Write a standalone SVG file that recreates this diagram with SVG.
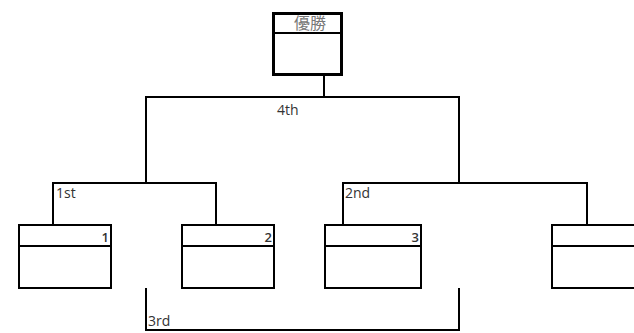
<svg xmlns="http://www.w3.org/2000/svg" width="634" height="333" viewBox="0 0 634 333">
<style>
.box{fill:#fff;stroke:#000;stroke-width:2}
.div{stroke:#000;stroke-width:2}
.line{fill:none;stroke:#000;stroke-width:2}
.lbl{font-family:"Open Sans","DejaVu Sans",sans-serif;font-size:14px;fill:#333}
.num{font-family:"Open Sans","DejaVu Sans",sans-serif;font-size:13px;font-weight:600;fill:#333;text-anchor:end}
</style>
<rect width="634" height="333" fill="#fff"/>
<g id="connectors">
<path class="line" d="M324 76V97M146 183V97H459V183"/>
<path class="line" d="M53 225V183H216V225"/>
<path class="line" d="M343 225V183H587V225"/>
<path class="line" d="M146 288V330H459V288"/>
<text class="lbl" x="277" y="115">4th</text>
<text class="lbl" x="56" y="198">1st</text>
<text class="lbl" x="345" y="198">2nd</text>
<text class="lbl" x="148" y="326">3rd</text>
</g>
<g id="winner">
<rect x="273.5" y="13.5" width="68" height="61" fill="#fff" stroke="#000" stroke-width="3"/>
<line x1="273" y1="33" x2="342" y2="33" class="div"/>
<text x="310" y="29" font-family="'Noto Sans CJK JP',sans-serif" font-size="16" fill="#777" text-anchor="middle">優勝</text>
</g>
<g id="team1">
<rect class="box" x="19" y="225" width="92" height="63"/>
<line class="div" x1="19" y1="246" x2="111" y2="246"/>
<text class="num" x="109" y="242">1</text>
</g>
<g id="team2">
<rect class="box" x="182" y="225" width="92" height="63"/>
<line class="div" x1="182" y1="246" x2="274" y2="246"/>
<text class="num" x="272" y="242">2</text>
</g>
<g id="team3">
<rect class="box" x="325" y="225" width="96" height="63"/>
<line class="div" x1="325" y1="246" x2="421" y2="246"/>
<text class="num" x="419" y="242">3</text>
</g>
<g id="team4">
<rect class="box" x="552" y="225" width="96" height="63"/>
<line class="div" x1="552" y1="246" x2="648" y2="246"/>
</g>
</svg>
